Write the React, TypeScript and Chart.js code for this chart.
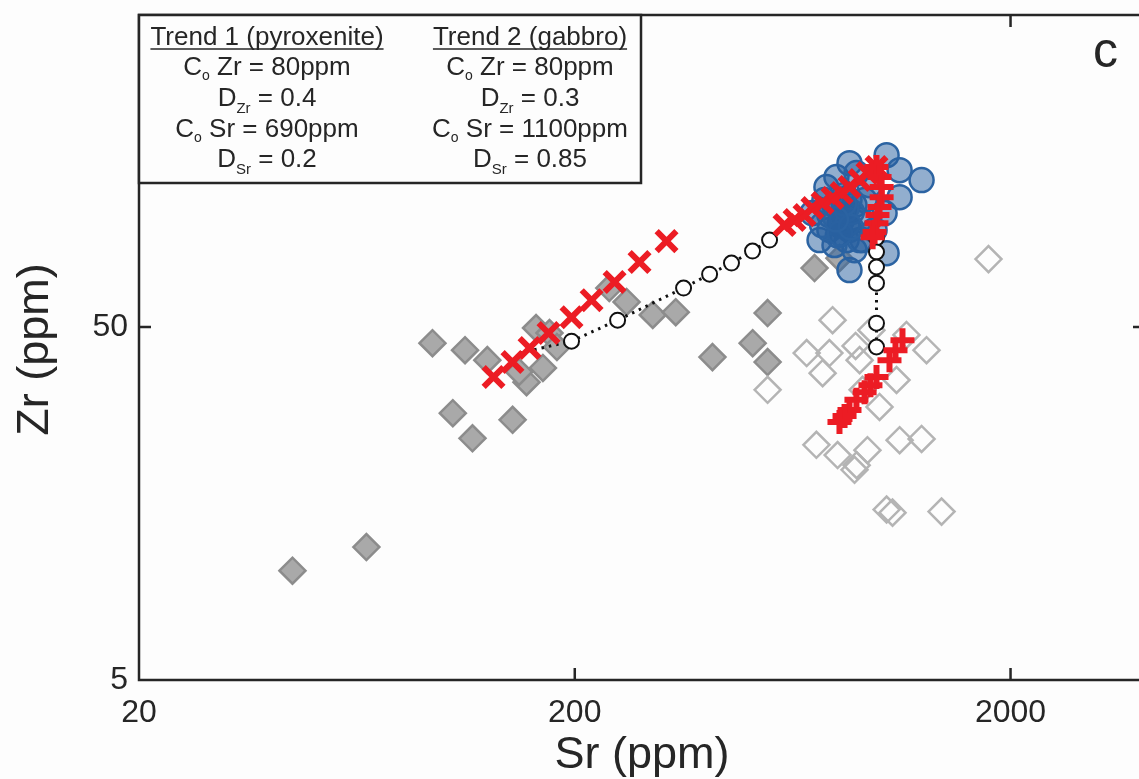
import React, { useEffect, useRef } from 'react';
import { Chart, registerables } from 'chart.js';
Chart.register(...registerables);

const FONT = '"Liberation Sans", Arial, Helvetica, sans-serif';

// Axis ticks
const xTicks = [20, 200, 2000];
const yTicks = [5, 50];

// Filled grey diamonds
const greyFilledSr = [45.0, 66.5, 94.3, 112, 126, 105, 116.5, 144, 155, 169, 163, 175, 149, 182, 240, 263, 302, 341, 414, 554, 512, 554, 710, 810];
const greyFilledZr = [10.2, 11.9, 45.0, 43.0, 40.3, 28.5, 24.2, 27.3, 34.9, 38.3, 49.7, 48.1, 37.3, 43.9, 64.5, 58.9, 54.1, 55.1, 41.1, 54.8, 45.0, 39.8, 73.5, 78.4];

// Open grey diamonds
const greyOpenSr = [554, 1780, 781, 681, 768, 882, 741, 901, 1283, 1154, 1095, 1001, 915, 717, 802, 877, 939, 1113, 1250, 1039, 1072, 1389, 887, 959];
const greyOpenZr = [33.2, 77.9, 52.3, 42.2, 42.2, 44.2, 37.0, 40.3, 43.0, 47.5, 35.4, 29.7, 33.2, 23.2, 21.7, 19.7, 22.4, 23.9, 24.1, 15.2, 14.9, 15.0, 20.3, 49.0];

// Blue circles
const blueSr = [1039, 854, 1113, 1250, 1113, 1028, 756, 797, 886, 729, 841, 1039, 915, 854, 768, 702, 789, 832, 877, 810, 854, 901, 768, 832, 925, 748, 877, 789, 949, 975, 854, 803, 901, 739, 820, 845, 865, 812, 840, 860, 830, 795];
const blueZr = [153.5, 145.7, 139.2, 130.5, 116.7, 105.2, 124.6, 133.1, 136.6, 88.2, 88.2, 81.0, 88.2, 72.5, 94.2, 105.2, 110.8, 103.8, 110.8, 97.3, 94.2, 100.5, 103.8, 118.3, 114.5, 114.5, 82.6, 85.4, 126.2, 94.2, 114.5, 91.0, 88.2, 97.3, 100.0, 98.0, 106.0, 92.0, 108.0, 96.0, 112.0, 101.0];

// Model curve, trend 1 (open circles, dotted)
const model1Sr = [149.4, 196.6, 250.8, 355.4, 407.8, 457.8, 511.6, 559.8];
const model1Zr = [42.2, 45.6, 52.3, 64.5, 70.6, 75.9, 82.1, 88.2];
const model1Marker = [0, 1, 1, 1, 1, 1, 1, 1];

// Model curve, trend 2 (open circles, dotted)
const model2Sr = [985, 985, 985, 985, 985, 985, 985];
const model2Zr = [97.3, 89.4, 81.6, 74.0, 66.6, 51.3, 43.9];
const model2Marker = [0, 1, 1, 1, 1, 1, 1];

// Red x (trend 1)
const trend1Sr = [130.2, 143.9, 157.5, 174.1, 196.6, 218.6, 246.8, 281.6, 324.8, 605.8, 638.8, 673.4, 702, 740.6, 780.8, 819, 854, 901, 939, 985];
const trend1Zr = [36.1, 39.8, 43.6, 48.1, 53.3, 59.6, 67.1, 76.4, 87.6, 97.3, 100.5, 103.8, 108.7, 112.3, 116.0, 119.9, 124.6, 130.5, 136.6, 142.0];

// Red + (trend 2)
const trend2Sr = [985, 1001, 1012, 1012, 1001, 990, 985, 975, 965, 1130, 1089, 1055, 985, 954, 925, 886, 854, 832, 810];
const trend2Zr = [142.0, 133.1, 124.6, 116.7, 109.4, 103.8, 98.5, 92.9, 89.9, 45.9, 43.0, 40.3, 36.1, 34.2, 32.7, 31.1, 29.1, 28.0, 26.9];

// Legend box text
const trend1Header = 'Trend 1 (pyroxenite)';
const trend2Header = 'Trend 2 (gabbro)';
const trend1Rows = [
  ['C', 'o', ' Zr = 80ppm'],
  ['D', 'Zr', ' = 0.4'],
  ['C', 'o', ' Sr = 690ppm'],
  ['D', 'Sr', ' = 0.2'],
];
const trend2Rows = [
  ['C', 'o', ' Zr = 80ppm'],
  ['D', 'Zr', ' = 0.3'],
  ['C', 'o', ' Sr = 1100ppm'],
  ['D', 'Sr', ' = 0.85'],
];
const panelLabel = 'c';
const xTitle = 'Sr (ppm)';
const yTitle = 'Zr (ppm)';

const pts = (xs: number[], ys: number[]) => xs.map((x, i) => ({ x, y: ys[i] }));

const TEXT = '#262626';

const overlay = {
  id: 'overlay',
  afterDraw(chart: any) {
    const { ctx, chartArea: a, scales } = chart;
    const xs = scales.x;
    const ys = scales.y;
    ctx.save();
    ctx.strokeStyle = TEXT;
    ctx.lineWidth = 2.5;
    ctx.beginPath();
    ctx.moveTo(a.left, a.top);
    ctx.lineTo(a.left, a.bottom);
    ctx.lineTo(a.right, a.bottom);
    ctx.lineTo(a.right, a.top);
    ctx.closePath();
    ctx.stroke();
    const TL = 12;
    ctx.lineWidth = 2.5;
    ctx.beginPath();
    for (const v of xTicks) {
      const px = xs.getPixelForValue(v);
      if (px <= a.left + 2) continue;
      ctx.moveTo(px, a.bottom);
      ctx.lineTo(px, a.bottom - TL);
      ctx.moveTo(px, a.top);
      ctx.lineTo(px, a.top + TL);
    }
    for (const v of yTicks) {
      const py = ys.getPixelForValue(v);
      if (py >= a.bottom - 2) continue;
      ctx.moveTo(a.left, py);
      ctx.lineTo(a.left + TL, py);
      ctx.moveTo(a.right, py);
      ctx.lineTo(a.right - TL, py);
    }
    ctx.stroke();

    // legend box
    const bx = a.left, by = a.top, bw = 641 - a.left, bh = 183 - a.top;
    ctx.fillStyle = '#fdfdfd';
    ctx.fillRect(bx, by, bw, bh);
    ctx.strokeStyle = TEXT;
    ctx.lineWidth = 2.5;
    ctx.strokeRect(bx, by, bw, bh);

    ctx.fillStyle = TEXT;
    ctx.textBaseline = 'alphabetic';
    const mainFont = `26px ${FONT}`;
    const drawHeader = (t: string, cx: number, base: number) => {
      ctx.font = mainFont;
      ctx.textAlign = 'center';
      ctx.fillText(t, cx, base);
      const w = ctx.measureText(t).width;
      ctx.lineWidth = 1.6;
      ctx.beginPath();
      ctx.moveTo(cx - w / 2, base + 4);
      ctx.lineTo(cx + w / 2, base + 4);
      ctx.stroke();
    };
    const drawRow = (row: string[], cx: number, base: number) => {
      const sub = row[1];
      const subFont = sub === 'o' ? `14px ${FONT}` : `15px ${FONT}`;
      const subDy = sub === 'o' ? 5 : 7;
      ctx.textAlign = 'left';
      ctx.font = mainFont;
      const w0 = ctx.measureText(row[0]).width;
      const w2 = ctx.measureText(row[2]).width;
      ctx.font = subFont;
      const w1 = ctx.measureText(sub).width;
      const total = w0 + w1 + w2;
      let x = cx - total / 2;
      ctx.font = mainFont;
      ctx.fillText(row[0], x, base);
      x += w0;
      ctx.font = subFont;
      ctx.fillText(sub, x, base + subDy);
      x += w1;
      ctx.font = mainFont;
      ctx.fillText(row[2], x, base);
    };
    const bases = [75, 106, 137, 167];
    drawHeader(trend1Header, 267, 45);
    drawHeader(trend2Header, 530, 45);
    trend1Rows.forEach((r, i) => drawRow(r, 267, bases[i]));
    trend2Rows.forEach((r, i) => drawRow(r, 530, bases[i]));

    // panel label
    ctx.font = `50px ${FONT}`;
    ctx.textAlign = 'left';
    ctx.fillText(panelLabel, 1093, 67);

    // axis titles
    ctx.font = `45px ${FONT}`;
    ctx.textAlign = 'center';
    ctx.fillText(xTitle, (a.left + a.right) / 2, 768);
    ctx.save();
    ctx.translate(48, (a.top + a.bottom) / 2 + 2);
    ctx.rotate(-Math.PI / 2);
    ctx.fillText(yTitle, 0, 0);
    ctx.restore();
    ctx.restore();
  },
};

export default function App() {
  const ref = useRef<HTMLCanvasElement | null>(null);
  useEffect(() => {
    document.body.style.margin = '0';
    const canvas = ref.current;
    if (!canvas) return;
    const chart = new Chart(canvas, {
      type: 'scatter',
      data: {
        datasets: [
          {
            label: 'Grey filled',
            data: pts(greyFilledSr, greyFilledZr),
            pointStyle: 'rectRot',
            pointRadius: 13,
            pointBorderWidth: 2.5,
            pointBackgroundColor: '#a9a9a9',
            pointBorderColor: '#8c8c8c',
            order: 6,
          },
          {
            label: 'Grey open',
            data: pts(greyOpenSr, greyOpenZr),
            pointStyle: 'rectRot',
            pointRadius: 13,
            pointBorderWidth: 2.5,
            pointBackgroundColor: 'rgba(255,255,255,0)',
            pointBorderColor: '#b4b4b4',
            order: 5,
          },
          {
            label: 'Blue',
            data: pts(blueSr, blueZr),
            pointStyle: 'circle',
            pointRadius: 12,
            pointBorderWidth: 2.5,
            pointBackgroundColor: 'rgba(40,95,160,0.5)',
            pointBorderColor: '#2b63a2',
            order: 4,
          },
          {
            label: 'Model 1',
            data: pts(model1Sr, model1Zr),
            showLine: true,
            borderColor: '#111',
            borderWidth: 3,
            borderDash: [2.5, 5],
            pointStyle: 'circle',
            pointRadius: model1Marker.map((m) => m * 7.5),
            pointBorderWidth: 2,
            pointBackgroundColor: '#ffffff',
            pointBorderColor: '#111',
            order: 3,
          },
          {
            label: 'Model 2',
            data: pts(model2Sr, model2Zr),
            showLine: true,
            borderColor: '#111',
            borderWidth: 3,
            borderDash: [2.5, 5],
            pointStyle: 'circle',
            pointRadius: model2Marker.map((m) => m * 7.5),
            pointBorderWidth: 2,
            pointBackgroundColor: '#ffffff',
            pointBorderColor: '#111',
            order: 2,
          },
          {
            label: 'Trend 1',
            data: pts(trend1Sr, trend1Zr),
            pointStyle: 'crossRot',
            pointRadius: 14,
            pointBorderWidth: 6,
            pointBorderColor: '#ec1c24',
            pointBackgroundColor: '#ec1c24',
            order: 1,
          },
          {
            label: 'Trend 2',
            data: pts(trend2Sr, trend2Zr),
            pointStyle: 'cross',
            pointRadius: 12,
            pointBorderWidth: 6,
            pointBorderColor: '#ec1c24',
            pointBackgroundColor: '#ec1c24',
            order: 0,
          },
        ],
      },
      options: {
        responsive: false,
        animation: false,
        devicePixelRatio: 1,
        layout: { autoPadding: false, padding: { left: 0, right: 25, top: 15, bottom: 0 } },
        plugins: { legend: { display: false }, tooltip: { enabled: false } },
        scales: {
          x: {
            type: 'logarithmic',
            position: 'bottom',
            min: 20,
            max: 4070,
            grid: { display: false, drawTicks: false },
            border: { display: false },
            ticks: {
              autoSkip: false,
              maxRotation: 0,
              padding: 14,
              color: TEXT,
              font: { family: FONT, size: 32 },
              callback: (v: any) => String(v),
            },
            afterBuildTicks: (s: any) => {
              s.ticks = xTicks.map((value) => ({ value }));
            },
            afterFit: (s: any) => {
              s.height = 99;
              s.paddingLeft = 0;
              s.paddingRight = 0;
              s.paddingTop = 0;
              s.paddingBottom = 0;
            },
          },
          y: {
            type: 'logarithmic',
            position: 'left',
            min: 5,
            max: 383,
            grid: { display: false, drawTicks: false },
            border: { display: false },
            ticks: {
              autoSkip: false,
              padding: 11,
              color: TEXT,
              font: { family: FONT, size: 32, lineHeight: 0.5 },
              callback: (v: any) => String(v),
            },
            afterBuildTicks: (s: any) => {
              s.ticks = yTicks.map((value) => ({ value }));
            },
            afterFit: (s: any) => {
              s.width = 139;
              s.paddingLeft = 0;
              s.paddingRight = 0;
              s.paddingTop = 0;
              s.paddingBottom = 0;
            },
          },
        },
      },
      plugins: [overlay],
    } as any);
    return () => chart.destroy();
  }, []);
  return (
    <div
      style={{
        position: 'fixed',
        left: 0,
        top: 0,
        width: 1139,
        height: 779,
        overflow: 'hidden',
        background: '#fdfdfd',
      }}
    >
      <canvas ref={ref} width={1170} height={779} style={{ display: 'block' }} />
    </div>
  );
}
